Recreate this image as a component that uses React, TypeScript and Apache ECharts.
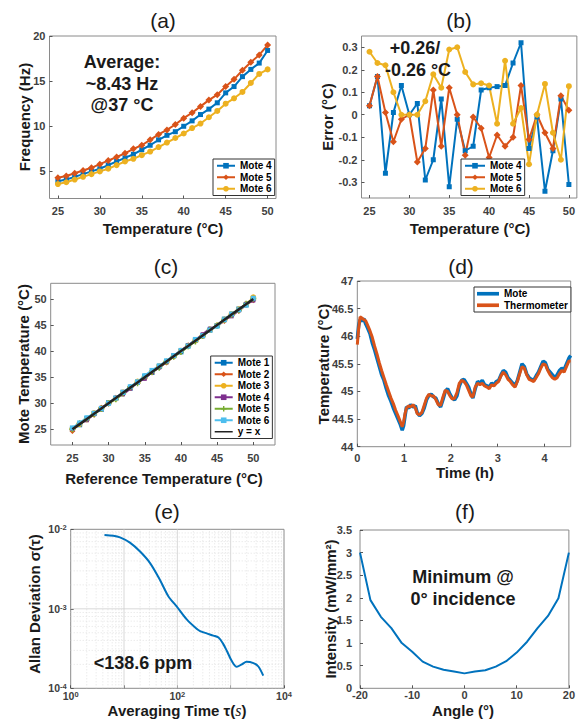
import React, { useEffect, useRef } from 'react';
import * as echarts from 'echarts';

// ---------- DATA ----------
const TEMP_C = [25, 26, 27, 28, 29, 30, 31, 32, 33, 34, 35, 36, 37, 38, 39, 40, 41, 42, 43, 44, 45, 46, 47, 48, 49, 50];

// (a) frequency (Hz)
const FREQ_MOTE4 = [3.9, 4.1, 4.4, 4.7, 5.0, 5.3, 5.7, 6.1, 6.5, 6.9, 7.4, 7.9, 8.5, 9.0, 9.4, 10.0, 10.6, 11.3, 11.9, 12.6, 13.7, 14.4, 15.5, 16.3, 17.0, 18.4];
const FREQ_MOTE5 = [4.3, 4.5, 4.8, 5.1, 5.4, 5.8, 6.2, 6.6, 7.0, 7.5, 7.9, 8.5, 9.1, 9.6, 10.2, 10.9, 11.5, 12.2, 12.9, 13.5, 14.4, 15.2, 16.2, 17.1, 17.9, 19.0];
const FREQ_MOTE6 = [3.6, 3.8, 4.1, 4.4, 4.7, 5.0, 5.3, 5.7, 6.1, 6.4, 6.8, 7.2, 7.7, 8.2, 8.7, 9.2, 9.8, 10.3, 11.0, 11.7, 12.5, 13.1, 13.8, 14.8, 15.8, 16.3];

// (b) error (°C)
const ERR_MOTE4 = [0.04, 0.17, -0.26, 0.01, 0.13, 0.0, 0.05, -0.29, -0.2, 0.07, -0.32, -0.02, -0.16, -0.14, 0.11, 0.12, 0.125, 0.13, 0.23, 0.32, -0.15, -0.01, -0.34, -0.16, 0.07, -0.31];
const ERR_MOTE5 = [0.04, 0.17, 0.01, -0.12, -0.02, 0.0, -0.21, -0.15, 0.11, -0.14, 0.12, 0.0, -0.18, -0.01, -0.06, -0.19, -0.09, -0.14, -0.1, 0.13, -0.11, 0.0, -0.08, -0.15, 0.085, 0.02];
const ERR_MOTE6 = [0.28, 0.23, 0.22, 0.1, 0.0, 0.0, 0.0, 0.06, 0.18, 0.12, 0.29, 0.3, 0.19, 0.135, 0.14, 0.13, -0.04, 0.24, -0.04, 0.03, -0.22, 0.0, 0.137, -0.08, -0.2, 0.127];
// (c) additional motes, error (°C)
const ERR_MOTE1 = [0.05, -0.12, 0.08, 0.02, -0.15, 0.1, -0.05, 0.12, -0.08, 0.03, 0.15, -0.1, 0.06, -0.02, 0.09, -0.14, 0.04, 0.11, -0.06, 0.02, -0.09, 0.13, -0.03, 0.07, -0.11, 0.05];
const ERR_MOTE2 = [-0.3, 0.1, -0.05, -0.2, 0.12, -0.1, 0.06, -0.15, 0.08, -0.04, 0.1, -0.12, 0.03, -0.18, 0.07, -0.05, 0.12, -0.08, -0.02, 0.09, -0.14, -0.25, 0.05, -0.3, -0.15, -0.25];
const ERR_MOTE3 = [0.1, 0.02, -0.08, 0.12, -0.03, 0.05, -0.1, 0.07, -0.02, 0.15, -0.06, 0.04, 0.11, -0.09, 0.03, 0.08, -0.04, 0.1, -0.07, 0.05, -0.1, 0.02, 0.12, 0.03, -0.05, 0.3];

// (d) temperature time series
const TIME_H = [0, 0.03, 0.06, 0.1, 0.14, 0.18, 0.22, 0.27, 0.32, 0.37, 0.42, 0.47, 0.52, 0.57, 0.62, 0.67, 0.72, 0.77, 0.82, 0.87, 0.92, 0.96, 0.99, 1.02, 1.05, 1.1, 1.14, 1.19, 1.24, 1.28, 1.33, 1.38, 1.43, 1.48, 1.53, 1.58, 1.63, 1.68, 1.73, 1.78, 1.83, 1.88, 1.93, 1.98, 2.03, 2.08, 2.13, 2.18, 2.23, 2.28, 2.33, 2.38, 2.43, 2.47, 2.52, 2.57, 2.62, 2.67, 2.72, 2.77, 2.82, 2.87, 2.92, 2.97, 3.02, 3.07, 3.12, 3.17, 3.22, 3.27, 3.32, 3.37, 3.42, 3.47, 3.52, 3.57, 3.62, 3.67, 3.72, 3.77, 3.82, 3.87, 3.92, 3.97, 4.02, 4.07, 4.12, 4.17, 4.22, 4.27, 4.32, 4.37, 4.42, 4.47, 4.52, 4.56];
const MOTE_TEMP = [45.95, 46.2, 46.3, 46.28, 46.32, 46.22, 46.15, 46.05, 45.88, 45.75, 45.6, 45.45, 45.3, 45.2, 45.05, 44.92, 44.82, 44.7, 44.6, 44.5, 44.4, 44.3, 44.38, 44.55, 44.72, 44.7, 44.76, 44.72, 44.74, 44.62, 44.56, 44.6, 44.7, 44.85, 44.93, 44.95, 44.9, 44.88, 44.78, 44.72, 44.85, 45.0, 45.05, 44.95, 44.88, 44.85, 44.92, 45.1, 45.2, 45.22, 45.15, 45.08, 44.95, 44.88, 45.05, 45.18, 45.15, 45.2, 45.12, 45.1, 45.08, 45.15, 45.12, 45.18, 45.2, 45.3, 45.38, 45.35, 45.25, 45.2, 45.15, 45.1, 45.2, 45.35, 45.5, 45.45, 45.32, 45.25, 45.22, 45.2, 45.28, 45.35, 45.45, 45.55, 45.52, 45.4, 45.35, 45.3, 45.25, 45.3, 45.38, 45.42, 45.4, 45.5, 45.6, 45.65];
const THERMO_TEMP = [45.85, 46.15, 46.35, 46.33, 46.3, 46.28, 46.2, 46.1, 45.98, 45.82, 45.68, 45.52, 45.38, 45.25, 45.12, 45.0, 44.88, 44.78, 44.66, 44.56, 44.45, 44.36, 44.45, 44.6, 44.7, 44.74, 44.72, 44.76, 44.7, 44.6, 44.58, 44.62, 44.75, 44.88, 44.95, 44.92, 44.92, 44.85, 44.76, 44.75, 44.9, 45.02, 45.0, 44.92, 44.86, 44.88, 44.98, 45.15, 45.2, 45.18, 45.12, 45.02, 44.92, 44.9, 45.08, 45.15, 45.12, 45.15, 45.1, 45.08, 45.05, 45.12, 45.1, 45.15, 45.18, 45.28, 45.35, 45.3, 45.22, 45.18, 45.12, 45.08, 45.18, 45.32, 45.45, 45.42, 45.3, 45.22, 45.2, 45.18, 45.25, 45.32, 45.42, 45.5, 45.48, 45.38, 45.3, 45.25, 45.22, 45.25, 45.32, 45.38, 45.35, 45.45, 45.55, 45.55];

// (e) Allan deviation
const TAU_S = [4.3, 6.3, 8.4, 12.9, 20, 30.8, 47, 67.7, 97, 150, 230, 267, 355, 473, 590, 710, 850, 1050, 1300, 1620, 1990, 2670, 3310, 4080];
const ALLAN_DEV = [8.5e-3, 8.3e-3, 7.9e-3, 6.8e-3, 5.25e-3, 3.76e-3, 2.32e-3, 1.44e-3, 1.07e-3, 7.35e-4, 5.6e-4, 5.25e-4, 4.9e-4, 4.6e-4, 4.35e-4, 3.7e-4, 2.95e-4, 2.2e-4, 1.86e-4, 2.0e-4, 2.15e-4, 2.07e-4, 1.88e-4, 1.44e-4];

// (f) intensity vs angle
const ANGLE_DEG = [-20, -18, -16, -14, -12, -10, -8, -6, -4, -2, 0, 2, 4, 6, 8, 10, 12, 14, 16, 18, 20];
const INTENSITY = [3.0, 1.95, 1.58, 1.33, 1.0, 0.81, 0.59, 0.48, 0.41, 0.37, 0.33, 0.37, 0.4, 0.48, 0.6, 0.79, 1.03, 1.33, 1.6, 1.99, 3.0];

// tick labels
const TICKS_TEMP = [25, 30, 35, 40, 45, 50];
const TICKS_FREQ = [5, 10, 15, 20];
const TICKS_ERR = [-0.3, -0.2, -0.1, 0, 0.1, 0.2, 0.3];
const TICKS_TIME = [0, 1, 2, 3, 4];
const TICKS_D_TEMP = [44, 44.5, 45, 45.5, 46, 46.5, 47];
const TICKS_ANGLE = [-20, -10, 0, 10, 20];
const TICKS_INT = [0, 0.5, 1, 1.5, 2, 2.5, 3, 3.5];

// ---------- STYLE ----------
const FONT = "'Liberation Sans', Arial, Helvetica, sans-serif";
const BLUE = '#0072BD';
const ORANGE = '#D95319';
const YELLOW = '#EDB120';
const PURPLE = '#7E2F8E';
const GREEN = '#77AC30';
const CYAN = '#4DBEEE';
const LABEL_COLOR = '#404040';
const PLUS = 'path://M3,0h2v3h3v2h-3v3h-2v-3h-3v-2h3z';
const LINE_ICON = 'path://M0,3h24v2h-24z';
const THICK_ICON = 'path://M0,2h24v4h-24z';

function vAxis(gi: number, min: number, max: number, ticks: number[], margin: number, fmt?: any) {
  return {
    gridIndex: gi,
    type: 'value',
    min,
    max,
    axisLine: { show: false, onZero: false },
    axisTick: { show: true, inside: true, length: 3, customValues: ticks, lineStyle: { color: '#555', width: 1 } },
    axisLabel: { customValues: ticks, color: LABEL_COLOR, fontSize: 11, fontWeight: 'bold', fontFamily: FONT, margin, formatter: fmt },
    splitLine: { show: false },
  };
}

function pts(xs: number[], ys: number[]) {
  return xs.map((x, i) => [x, ys[i]]);
}

function lineS(name: string, gi: number, data: any[], color: string, symbol: string, symbolSize: number, width = 2, z = 3) {
  return {
    type: 'line',
    name,
    xAxisIndex: gi,
    yAxisIndex: gi,
    data,
    color,
    symbol,
    symbolSize,
    showSymbol: symbol !== 'none',
    lineStyle: { color, width },
    itemStyle: { color },
    z,
    silent: true,
  };
}

function legend(names: any[], left: number, top: number, itemWidth: number, itemHeight = 7) {
  return {
    show: true,
    orient: 'vertical',
    left,
    top,
    data: names,
    formatter: (n: string) => n.split('|')[1],
    itemGap: 0,
    itemWidth,
    itemHeight,
    padding: [1, 3, 1, 3],
    borderColor: '#333',
    borderWidth: 1,
    backgroundColor: '#fff',
    selectedMode: false,
    textStyle: { fontSize: 10, fontWeight: 'bold', fontFamily: FONT, color: '#000', lineHeight: 11.5 },
  };
}

function txt(text: string, x: number, y: number, size: number, weight: string, rotate = false, rich?: any) {
  return {
    type: 'text',
    x,
    y,
    rotation: rotate ? Math.PI / 2 : 0,
    z: 100,
    silent: true,
    style: {
      text,
      fontSize: size,
      fontWeight: weight,
      fontFamily: FONT,
      fill: '#1a1a1a',
      align: 'center',
      verticalAlign: 'middle',
      rich,
    },
  };
}

function expFmt(v: number) {
  const e = Math.round(Math.log10(v));
  return '{b|10}{s|' + e + '}';
}
const EXP_RICH = {
  b: { fontSize: 10.5, fontWeight: 'bold', fontFamily: FONT, color: LABEL_COLOR, lineHeight: 11, verticalAlign: 'bottom' },
  s: { fontSize: 7.5, fontWeight: 'bold', fontFamily: FONT, color: LABEL_COLOR, lineHeight: 11, verticalAlign: 'top' },
};

export default function App() {
  const ref = useRef<HTMLDivElement>(null);

  useEffect(() => {
    if (!ref.current) return;
    const chart = echarts.init(ref.current, undefined, { renderer: 'svg' });

    const gridBox = { show: true, borderColor: '#8a8a8a', borderWidth: 1, backgroundColor: '#fff', containLabel: false };
    const grids = [
      { left: 49.5, top: 36, width: 226.5, height: 162.5, ...gridBox },
      { left: 361.5, top: 36, width: 218.3, height: 162, ...gridBox },
      { left: 50.7, top: 283.3, width: 224.3, height: 161.7, ...gridBox },
      { left: 357.3, top: 281, width: 213.4, height: 165.7, ...gridBox },
      { left: 70.7, top: 529.3, width: 213.3, height: 159, ...gridBox },
      { left: 360, top: 530, width: 210.7, height: 158.3, ...gridBox },
    ];

    const errFmt = (v: number) => (Math.abs(v) < 1e-9 ? '0' : v.toFixed(1));

    const xAxes: any[] = [
      vAxis(0, 24, 51, TICKS_TEMP, 7),
      vAxis(1, 24, 51, TICKS_TEMP, 7),
      vAxis(2, 22, 53, TICKS_TEMP, 7),
      vAxis(3, 0, 4.56, TICKS_TIME, 6),
      {
        gridIndex: 4, type: 'log', logBase: 10, min: 1, max: 10000,
        axisLine: { show: false, onZero: false },
        axisTick: { show: true, inside: true, length: 3, lineStyle: { color: '#555' } },
        axisLabel: {
          margin: 2,
          formatter: (v: number) => {
            const e = Math.round(Math.log10(v));
            return e % 2 === 0 ? expFmt(v) : '';
          },
          rich: EXP_RICH,
        },
        splitLine: { show: false },
      },
      vAxis(5, -20, 20, TICKS_ANGLE, 1),
    ];
    const yAxes: any[] = [
      vAxis(0, 2, 20, TICKS_FREQ, 4),
      vAxis(1, -0.37, 0.35, TICKS_ERR, 4, errFmt),
      vAxis(2, 22, 53, TICKS_TEMP, 4),
      vAxis(3, 44, 47, TICKS_D_TEMP, 4),
      {
        gridIndex: 4, type: 'log', logBase: 10, min: 1e-4, max: 1e-2,
        axisLine: { show: false, onZero: false },
        axisTick: { show: true, inside: true, length: 3, lineStyle: { color: '#555' } },
        axisLabel: { margin: 4, formatter: expFmt, rich: EXP_RICH },
        splitLine: { show: false },
      },
      vAxis(5, 0, 3.5, TICKS_INT, 8),
    ];

    const c = (err: number[]) => TEMP_C.map((t, i) => [t, +(t + err[i]).toFixed(3)]);

    // grid lines of the log-log panel (e): [value, isMajor, isVertical]
    const gridSpecs: [number, boolean, boolean][] = [];
    [1, 10, 100, 1000].forEach((d) => {
      for (let m = 1; m <= 9; m++) {
        const v = d * m;
        if (v === 1) continue;
        gridSpecs.push([v, m === 1, true]);
      }
    });
    [1e-4, 1e-3].forEach((d) => {
      for (let m = 1; m <= 9; m++) {
        const v = d * m;
        if (m === 1 && d === 1e-4) continue;
        gridSpecs.push([v, m === 1, false]);
      }
    });

    const gridSeries = {
      type: 'custom',
      name: 'e|grid',
      xAxisIndex: 4,
      yAxisIndex: 4,
      silent: true,
      z: 1,
      data: gridSpecs.map(() => [10, 1e-3]),
      renderItem: (params: any, api: any) => {
        const [v, isMajor, vertical] = gridSpecs[params.dataIndex];
        const p1 = vertical ? api.coord([v, 1e-4]) : api.coord([1, v]);
        const p2 = vertical ? api.coord([v, 1e-2]) : api.coord([10000, v]);
        return {
          type: 'line',
          shape: { x1: p1[0], y1: p1[1], x2: p2[0], y2: p2[1] },
          style: {
            stroke: isMajor ? '#cfcfcf' : '#dcdcdc',
            lineWidth: 0.8,
            lineDash: isMajor ? null : [1, 2],
          },
        };
      },
    };

    const series: any[] = [
      // (a)
      lineS('a|Mote 4', 0, pts(TEMP_C, FREQ_MOTE4), BLUE, 'rect', 5),
      lineS('a|Mote 5', 0, pts(TEMP_C, FREQ_MOTE5), ORANGE, 'diamond', 7),
      lineS('a|Mote 6', 0, pts(TEMP_C, FREQ_MOTE6), YELLOW, 'circle', 6),
      // (b)
      lineS('b|Mote 4', 1, pts(TEMP_C, ERR_MOTE4), BLUE, 'rect', 5),
      lineS('b|Mote 5', 1, pts(TEMP_C, ERR_MOTE5), ORANGE, 'diamond', 7),
      lineS('b|Mote 6', 1, pts(TEMP_C, ERR_MOTE6), YELLOW, 'circle', 6),
      // (c)
      lineS('c|Mote 1', 2, c(ERR_MOTE1), BLUE, 'rect', 5),
      lineS('c|Mote 2', 2, c(ERR_MOTE2), ORANGE, 'diamond', 6),
      lineS('c|Mote 3', 2, c(ERR_MOTE3), YELLOW, 'circle', 6),
      lineS('c|Mote 4', 2, c(ERR_MOTE4), PURPLE, 'rect', 4),
      lineS('c|Mote 5', 2, c(ERR_MOTE5), GREEN, PLUS, 6),
      lineS('c|Mote 6', 2, c(ERR_MOTE6), CYAN, 'rect', 5),
      lineS('c|y = x', 2, pts(TEMP_C, TEMP_C), '#222222', 'none', 0, 2.5, 5),
      // (d)
      lineS('d|Mote', 3, pts(TIME_H, MOTE_TEMP), BLUE, 'none', 0, 3.5),
      lineS('d|Thermometer', 3, pts(TIME_H, THERMO_TEMP), ORANGE, 'none', 0, 3),
      // (e)
      gridSeries,
      { ...lineS('e|Allan', 4, pts(TAU_S, ALLAN_DEV), BLUE, 'none', 0, 2, 4), smooth: 0.3 },
      // (f)
      lineS('f|Intensity', 5, pts(ANGLE_DEG, INTENSITY), BLUE, 'none', 0, 2),
    ];

    const graphics: any[] = [
      // panel titles
      txt('(a)', 163, 20, 21, 'normal'),
      txt('(b)', 459, 20, 21, 'normal'),
      txt('(c)', 166, 266, 21, 'normal'),
      txt('(d)', 461, 266, 21, 'normal'),
      txt('(e)', 167, 511, 21, 'normal'),
      txt('(f)', 465, 511, 21, 'normal'),
      // x axis names
      txt('Temperature (°C)', 163, 228, 15, 'bold'),
      txt('Temperature (°C)', 470, 228, 15, 'bold'),
      txt('Reference Temperature (°C)', 164, 478, 15, 'bold'),
      txt('Time (h)', 465, 472, 15, 'bold'),
      txt('Averaging Time τ({i|s})', 177, 710, 15, 'bold', false, {
        i: { fontSize: 16, fontStyle: 'italic', fontFamily: "'Liberation Serif', 'DejaVu Serif', serif", fill: '#1a1a1a' },
      }),
      txt('Angle (°)', 463, 710, 15, 'bold'),
      // y axis names
      txt('Frequency (Hz)', 24, 117, 15, 'bold', true),
      txt('Error (°C)', 327, 117, 15, 'bold', true),
      txt('Mote Temperature (°C)', 23, 364, 15, 'bold', true),
      txt('Temperature (°C)', 323, 364, 15, 'bold', true),
      txt('Allan Deviation σ(τ)', 34, 604, 15, 'bold', true),
      txt('Intensity (mW/mm²)', 330, 609, 15, 'bold', true),
      // annotations
      txt('Average:', 122, 62, 18, 'bold'),
      txt('~8.43 Hz', 122, 83.5, 18, 'bold'),
      txt('@37 °C', 122, 105, 18, 'bold'),
      txt('+0.26/', 415, 48, 18, 'bold'),
      txt('-0.26 °C', 418, 70, 18, 'bold'),
      txt('<138.6 ppm', 143, 663, 18, 'bold'),
      txt('Minimum @', 463, 577, 18, 'bold'),
      txt('0° incidence', 463, 599, 18, 'bold'),
    ];

    chart.setOption({
      animation: false,
      backgroundColor: '#ffffff',
      textStyle: { fontFamily: FONT },
      grid: grids,
      xAxis: xAxes,
      yAxis: yAxes,
      legend: [
        legend(['a|Mote 4', 'a|Mote 5', 'a|Mote 6'], 213, 159, 18),
        legend(['b|Mote 4', 'b|Mote 5', 'b|Mote 6'], 461, 159, 20),
        legend(['c|Mote 1', 'c|Mote 2', 'c|Mote 3', 'c|Mote 4', 'c|Mote 5', 'c|Mote 6', { name: 'c|y = x', icon: LINE_ICON }], 210.7, 356, 18),
        legend([{ name: 'd|Mote', icon: THICK_ICON }, { name: 'd|Thermometer', icon: THICK_ICON }], 474, 287, 22, 7),
      ],
      series,
      graphic: graphics,
    });

    return () => chart.dispose();
  }, []);

  return (
    <div
      ref={ref}
      style={{ position: 'absolute', left: 0, top: 0, width: 578, height: 728, background: '#fff' }}
    />
  );
}
